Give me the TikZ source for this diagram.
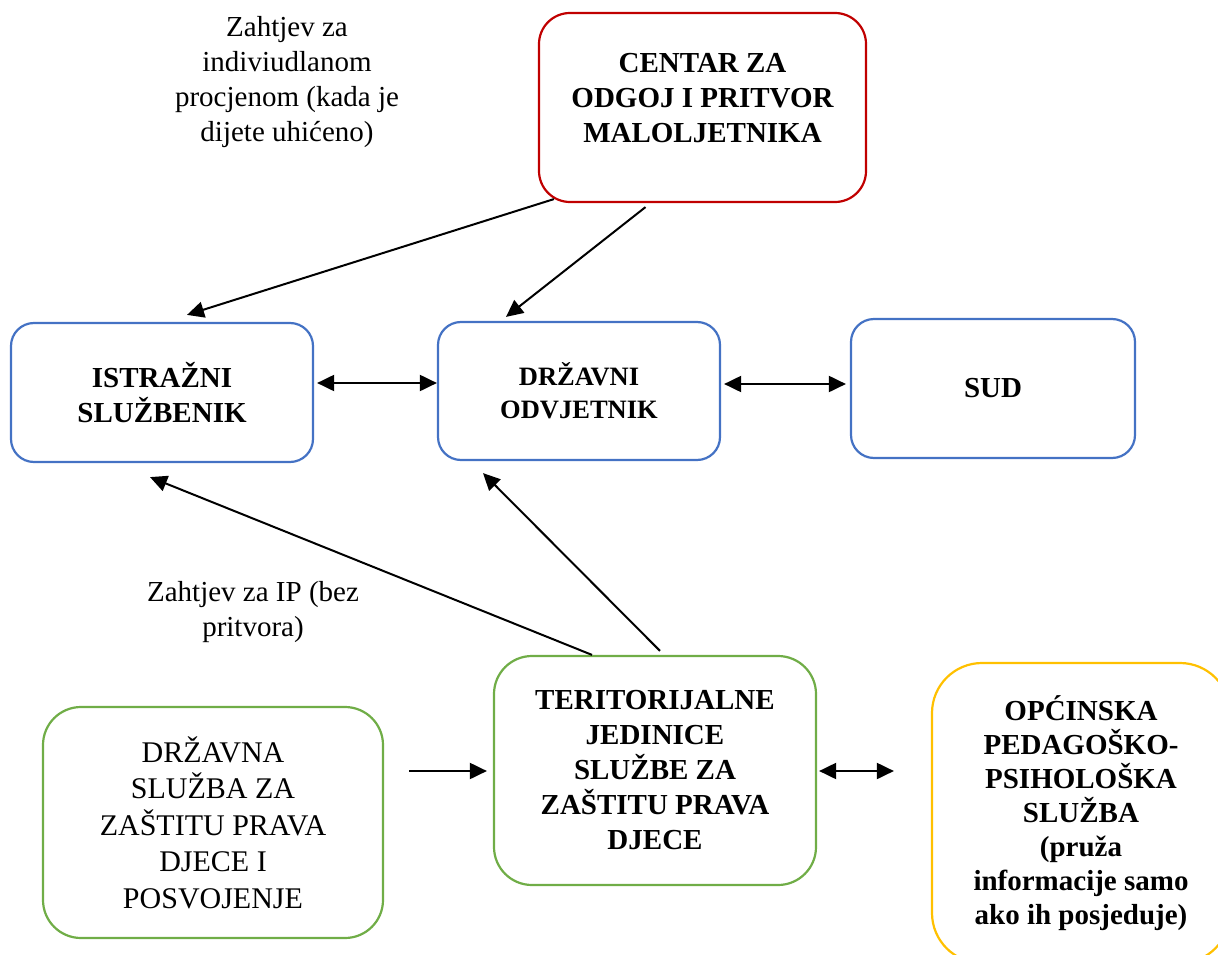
\documentclass[tikz,border=0pt]{standalone}
\usepackage{fontspec}
\setmainfont{Liberation Serif}
\usetikzlibrary{%
  arrows.meta,
  calc,
  positioning
}

\definecolor{boxblue}{HTML}{4472C4}
\definecolor{boxred}{HTML}{C00000}
\definecolor{boxgreen}{HTML}{70AD47}
\definecolor{boxyellow}{HTML}{FFC000}

\begin{document}
\begin{tikzpicture}[x=1pt, y=-1pt,
    box/.style={draw, line width=2.2pt, align=center, inner sep=0pt,
      font=\bfseries\fontsize{29}{35}\selectfont},
    arr/.style={line width=2pt, -{Triangle[length=17pt, width=16pt]}},
    dblarr/.style={line width=2pt,
      {Triangle[length=17pt, width=16pt]}-{Triangle[length=17pt, width=16pt]}},
    note/.style={align=center, font=\fontsize{29}{35}\selectfont}]

  \useasboundingbox (0,0) rectangle (1218,955) ;
  \clip (0,0) rectangle (1218,955) ;

  % top
  \node [box, draw=boxred, rounded corners=31pt, minimum width=327pt,
         minimum height=189pt, text depth=19pt]
        (centar) at (702.5,107.5) {CENTAR ZA\\ODGOJ I PRITVOR\\MALOLJETNIKA} ;

  % middle row
  \node [box, draw=boxblue, rounded corners=23pt, minimum width=302pt,
         minimum height=139pt]
        (istrazni) at (162,392.5) {ISTRAŽNI\\SLUŽBENIK} ;
  \node [box, draw=boxblue, rounded corners=23pt, minimum width=282pt,
         minimum height=138pt, font=\bfseries\fontsize{26.5}{33}\selectfont]
        (drzavni) at (579,391) {DRŽAVNI\\ODVJETNIK} ;
  \node [box, draw=boxblue, rounded corners=23pt, minimum width=284pt,
         minimum height=139pt]
        (sud) at (993,388.5) {SUD} ;

  % bottom row
  \node [box, draw=boxgreen, rounded corners=38pt, minimum width=340pt,
         minimum height=231pt, font=\fontsize{30}{36.5}\selectfont]
        (drzavna) at (213,822.5) {DRŽAVNA\\SLUŽBA ZA\\ZAŠTITU PRAVA\\DJECE I\\POSVOJENJE} ;
  \node [box, draw=boxgreen, rounded corners=38pt, minimum width=322pt,
         minimum height=229pt, font=\bfseries\fontsize{29}{35}\selectfont]
        (teritorij) at (655,770.5) {TERITORIJALNE\\JEDINICE\\SLUŽBE ZA\\ZAŠTITU PRAVA\\DJECE} ;
  \node [box, draw=boxyellow, rounded corners=50pt, minimum width=298pt,
         minimum height=300pt, font=\bfseries\fontsize{29}{34}\selectfont]
        (opcinska) at (1081,813) {OPĆINSKA\\PEDAGOŠKO-\\PSIHOLOŠKA\\SLUŽBA\\(pruža\\informacije samo\\ako ih posjeduje)} ;

  % labels
  \node [note] (zahtjevip) at (287,82)
        {Zahtjev za\\indiviudlanom\\procjenom (kada je\\dijete uhićeno)} ;
  \node [note] (zahtjevbez) at (253,612) {Zahtjev za IP (bez\\pritvora)} ;

  % arrows
  \draw [arr] ($(centar.south west)+(16,-4)$) -- ($(istrazni.north)+(25,-7)$) ;
  \draw [arr] ($(centar.south)+(-57,4)$) -- ($(drzavni.north)+(-73,-4)$) ;
  \draw [dblarr] ($(istrazni.east)+(3,-9.5)$) -- ($(drzavni.west)+(0,-8)$) ;
  \draw [dblarr] ($(drzavni.east)+(3,-7)$) -- ($(sud.west)+(-4,-4.5)$) ;
  \draw [arr] ($(teritorij.north)+(-63,0)$) -- ($(istrazni.south)+(-12,14)$) ;
  \draw [arr] ($(teritorij.north)+(5,-4)$) -- ($(drzavni.south)+(-96,12)$) ;
  \draw [arr] ($(drzavna.east)+(25,-51.5)$) -- ($(teritorij.west)+(-6,0.5)$) ;
  \draw [dblarr] ($(teritorij.east)+(2,0.5)$) -- ($(opcinska.west)+(-37,-42)$) ;

\end{tikzpicture}
\end{document}
